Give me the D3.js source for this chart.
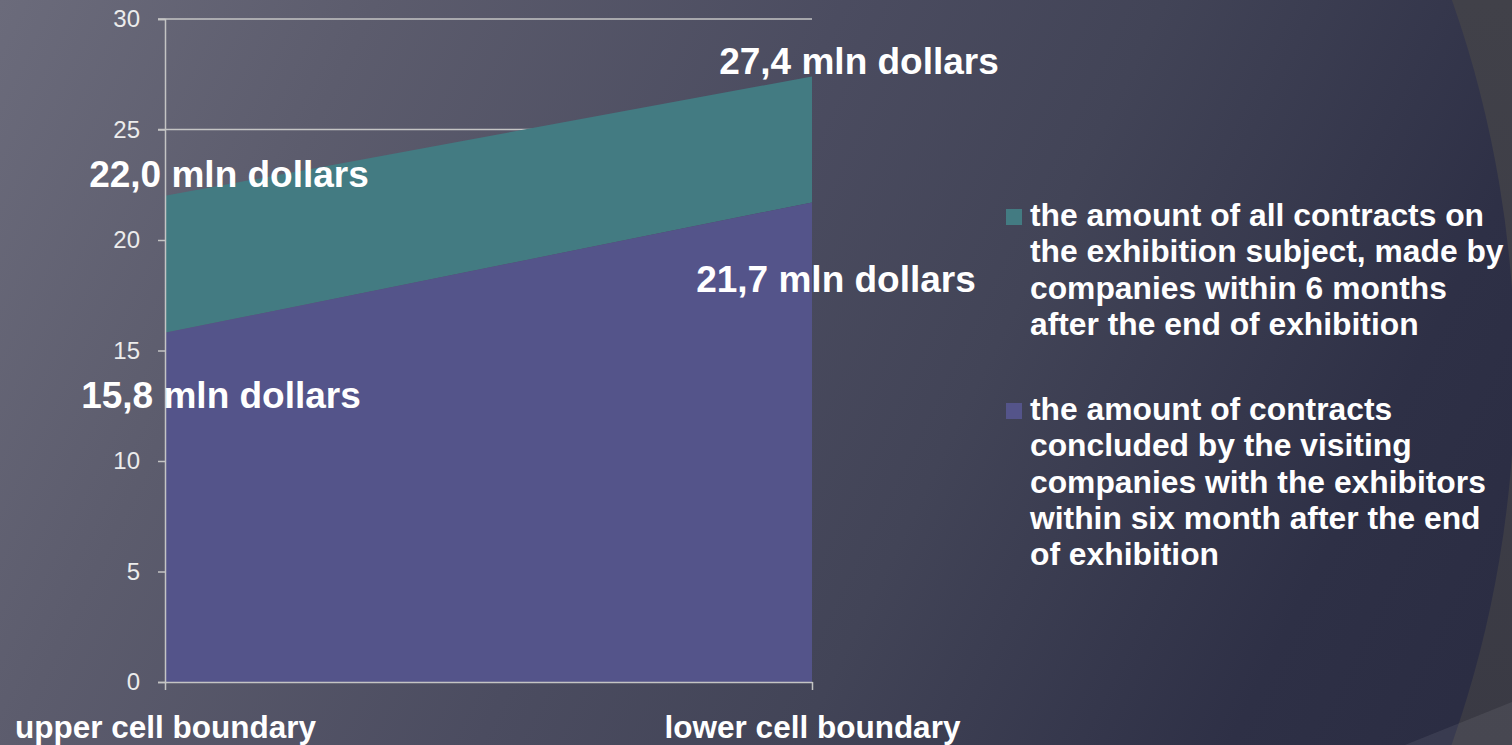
<!DOCTYPE html>
<html>
<head>
<meta charset="utf-8">
<script src="https://cdn.jsdelivr.net/npm/d3@7"></script>
<style>
  html, body { margin: 0; padding: 0; overflow: hidden; background: #3e3e48; }
  text { font-family: "Liberation Sans", Arial, sans-serif; }
</style>
</head>
<body>
<svg id="chart" width="1512" height="745"></svg>
<script>
// ---- data ----
const categories = ["upper cell boundary", "lower cell boundary"];
const visitorContracts = [15.8, 21.7];   // contracts by visiting companies with exhibitors
const allContracts = [22.0, 27.4];       // all contracts on the exhibition subject (stack total)
const yTicks = [0, 5, 10, 15, 20, 25, 30];
const gridTicks = [25, 30];
const seriesNames = ["all contracts", "visitor contracts"];
const legendLines = [
  ["the amount of all contracts on",
   "the exhibition subject, made by",
   "companies within 6 months",
   "after the end of exhibition"],
  ["the amount of contracts",
   "concluded by the visiting",
   "companies with the exhibitors",
   "within six month after the end",
   "of exhibition"]
];
const labelUnit = " mln dollars";

// ---- layout ----
const W = 1512, H = 745;
const plot = { left: 165, right: 812, top: 19, bottom: 682 };
const colors = { all: "#437b82", visitors: "#54548a", axis: "#c4c4c4" };

const svg = d3.select("#chart");
const defs = svg.append("defs");

// slide background: diagonal gradient inside a large ellipse
const grad = defs.append("linearGradient").attr("id", "bg")
  .attr("gradientUnits", "userSpaceOnUse")
  .attr("x1", 0).attr("y1", 0).attr("x2", W).attr("y2", H);
[[0, "#6b6b7b"], [0.2, "#5c5c6d"], [0.45, "#4b4c60"], [0.62, "#424457"],
 [0.85, "#2e3046"], [1, "#2a2c42"]].forEach(([o, c]) =>
  grad.append("stop").attr("offset", o).attr("stop-color", c));

const outer = defs.append("linearGradient").attr("id", "outer")
  .attr("x1", 0).attr("y1", 0).attr("x2", 0).attr("y2", 1);
outer.append("stop").attr("offset", 0).attr("stop-color", "#414149");
outer.append("stop").attr("offset", 1).attr("stop-color", "#3a3a44");

svg.append("rect").attr("width", W).attr("height", H).attr("fill", "url(#outer)");
svg.append("ellipse")
  .attr("cx", 700).attr("cy", 372).attr("rx", 815).attr("ry", 964)
  .attr("fill", "url(#bg)");
svg.append("path")
  .attr("d", `M1405,${H} L${W},702 L${W},${H} Z`)
  .attr("fill", "#ffffff").attr("fill-opacity", 0.07);

// ---- scales ----
const x = d3.scalePoint().domain(categories).range([plot.left, plot.right]);
const y = d3.scaleLinear().domain([0, 30]).range([plot.bottom, plot.top]);

const rows = categories.map((c, i) => ({
  cat: c, visitors: visitorContracts[i], total: allContracts[i]
}));

// gridlines (under the areas)
svg.append("g").selectAll("line").data(gridTicks).join("line")
  .attr("x1", plot.left - 7).attr("x2", plot.right)
  .attr("y1", d => y(d)).attr("y2", d => y(d))
  .attr("stroke", colors.axis).attr("stroke-width", 1.5);

// stacked areas
const areaAll = d3.area().x(d => x(d.cat)).y0(d => y(d.visitors)).y1(d => y(d.total));
const areaVis = d3.area().x(d => x(d.cat)).y0(() => y(0)).y1(d => y(d.visitors));
svg.append("path").datum(rows).attr("d", areaAll).attr("fill", colors.all);
svg.append("path").datum(rows).attr("d", areaVis).attr("fill", colors.visitors);

// y axis
const yAxis = svg.append("g").attr("transform", `translate(${plot.left},0)`)
  .call(d3.axisLeft(y).tickValues(yTicks).tickSize(7).tickPadding(18).tickFormat(d3.format("d")));
yAxis.select(".domain").attr("stroke", colors.axis).attr("stroke-width", 1.5);
yAxis.selectAll(".tick line").attr("stroke", colors.axis).attr("stroke-width", 1.5);
yAxis.selectAll(".tick text")
  .attr("fill", "#ececec").attr("font-size", 24)
  .attr("font-family", "Liberation Sans, Arial, sans-serif");

// x axis
const xAxis = svg.append("g").attr("transform", `translate(0,${plot.bottom})`)
  .call(d3.axisBottom(x).tickSize(8).tickSizeOuter(0).tickPadding(26));
xAxis.select(".domain").attr("stroke", colors.axis).attr("stroke-width", 1.5);
xAxis.selectAll(".tick line").attr("stroke", colors.axis).attr("stroke-width", 1.5);
xAxis.selectAll(".tick text")
  .attr("fill", "#ffffff").attr("font-size", 31.5).attr("font-weight", "bold")
  .attr("dy", "0.71em")
  .attr("font-family", "Liberation Sans, Arial, sans-serif");

// value labels
const fmt = d3.formatLocale({ decimal: ",", thousands: " ", grouping: [3], currency: ["", ""] }).format(".1f");
const labelOffsets = {
  total:    [[64, -9], [47, -2]],
  visitors: [[56, 75], [24, 90]]
};
const labels = [];
rows.forEach((r, i) => {
  labels.push({ v: r.total, cx: x(r.cat), cy: y(r.total), off: labelOffsets.total[i] });
  labels.push({ v: r.visitors, cx: x(r.cat), cy: y(r.visitors), off: labelOffsets.visitors[i] });
});
svg.append("g").selectAll("text").data(labels).join("text")
  .attr("x", d => d.cx + d.off[0]).attr("y", d => d.cy + d.off[1])
  .attr("text-anchor", "middle")
  .attr("fill", "#ffffff").attr("font-size", 37).attr("font-weight", "bold")
  .text(d => fmt(d.v) + labelUnit);

// legend
const legend = svg.append("g").attr("transform", "translate(1006,0)");
const legendItems = [
  { name: seriesNames[0], color: colors.all, lines: legendLines[0], baseline: 226 },
  { name: seriesNames[1], color: colors.visitors, lines: legendLines[1], baseline: 420 }
];
const lineH = 36.3;
const items = legend.selectAll("g").data(legendItems).join("g");
items.append("rect")
  .attr("x", 0).attr("y", d => d.baseline - 17).attr("width", 16).attr("height", 16)
  .attr("fill", d => d.color);
items.append("text")
  .attr("fill", "#ffffff").attr("font-size", 31.8).attr("font-weight", "bold")
  .selectAll("tspan").data(d => d.lines.map((t, k) => ({ t, y: d.baseline + k * lineH })))
  .join("tspan").attr("x", 24).attr("y", d => d.y).text(d => d.t);
</script>
</body>
</html>
